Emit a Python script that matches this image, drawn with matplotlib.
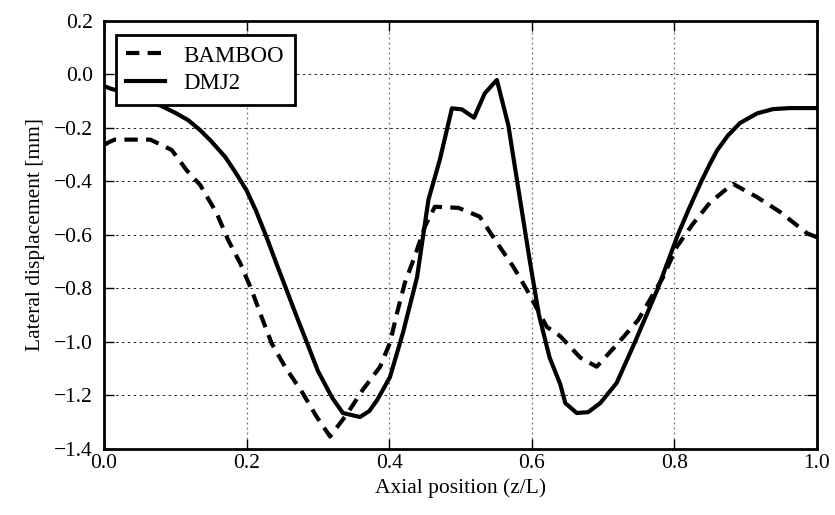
import matplotlib
matplotlib.use("Agg")
import matplotlib.pyplot as plt
from matplotlib.ticker import FuncFormatter

# lateral displacement along the rod, two codes
z_bamboo = [0.0, 0.008, 0.015, 0.065, 0.095, 0.116, 0.135, 0.158, 0.174, 0.191, 0.207,
            0.221, 0.235, 0.254, 0.278, 0.298, 0.317, 0.341, 0.363, 0.387, 0.401, 0.411,
            0.422, 0.436, 0.45, 0.464, 0.497, 0.527, 0.551, 0.574, 0.593, 0.621, 0.64,
            0.668, 0.691, 0.721, 0.749, 0.784, 0.803, 0.826, 0.85, 0.882, 0.916, 0.948,
            0.986, 1.0]
d_bamboo = [-0.265, -0.253, -0.245, -0.245, -0.284, -0.36, -0.415, -0.52, -0.62, -0.707,
            -0.807, -0.908, -1.006, -1.095, -1.19, -1.28, -1.355, -1.27, -1.18, -1.095,
            -1.005, -0.893, -0.78, -0.68, -0.57, -0.496, -0.5, -0.533, -0.63, -0.72,
            -0.806, -0.945, -0.98, -1.06, -1.094, -1.006, -0.92, -0.76, -0.647, -0.56,
            -0.48, -0.41, -0.46, -0.515, -0.595, -0.61]

z_dmj2 = [0.0, 0.01, 0.04, 0.06, 0.081, 0.1, 0.118, 0.135, 0.15, 0.17, 0.185, 0.2,
          0.213, 0.228, 0.242, 0.256, 0.27, 0.284, 0.3, 0.32, 0.335, 0.359, 0.372, 0.383,
          0.401, 0.419, 0.439, 0.455, 0.471, 0.488, 0.502, 0.519, 0.534, 0.551, 0.567,
          0.583, 0.597, 0.61, 0.625, 0.64, 0.647, 0.663, 0.679, 0.696, 0.719, 0.745,
          0.777, 0.805, 0.821, 0.838, 0.85, 0.86, 0.875, 0.892, 0.916, 0.938, 0.962, 1.0]
d_dmj2 = [-0.045, -0.055, -0.078, -0.097, -0.12, -0.145, -0.172, -0.21, -0.25, -0.31,
          -0.37, -0.435, -0.51, -0.61, -0.71, -0.807, -0.905, -1.0, -1.11, -1.21, -1.267,
          -1.282, -1.26, -1.219, -1.133, -0.97, -0.76, -0.47, -0.32, -0.128, -0.132,
          -0.163, -0.072, -0.022, -0.19, -0.46, -0.695, -0.9, -1.06, -1.16, -1.23,
          -1.267, -1.264, -1.23, -1.155, -1.0, -0.8, -0.6, -0.5, -0.4, -0.335, -0.285,
          -0.23, -0.183, -0.147, -0.131, -0.127, -0.127]

x_ticks = [0.0, 0.2, 0.4, 0.6, 0.8, 1.0]
y_ticks = [0.2, 0.0, -0.2, -0.4, -0.6, -0.8, -1.0, -1.2, -1.4]

plt.rcParams['font.family'] = ['Liberation Serif', 'DejaVu Serif']


def fmt(v, pos):
    if abs(v) < 1e-9:
        v = 0.0
    return f"{v:.1f}".replace('-', '\u2212')


fig = plt.figure(figsize=(8.35, 5.15), dpi=100)
ax = fig.add_axes([0.1246, 0.129, 0.8538, 0.831])

ax.plot(z_bamboo, d_bamboo, color='black', linewidth=3, linestyle=(0, (3.2, 2.0)),
        label='BAMBOO')
ax.plot(z_dmj2, d_dmj2, color='black', linewidth=3, linestyle='-', label='DMJ2')

ax.set_xlim(0, 1.0)
ax.set_ylim(-1.4, 0.2)
ax.set_xticks(x_ticks)
ax.set_yticks(y_ticks)
ax.xaxis.set_major_formatter(FuncFormatter(fmt))
ax.yaxis.set_major_formatter(FuncFormatter(fmt))
ax.grid(True, axis='y', color='black', linestyle=(0, (3, 4)), linewidth=0.6)
ax.grid(True, axis='x', color='0.45', linestyle=(0, (1.5, 2.5)), linewidth=0.9)

ax.tick_params(direction='in', length=7, width=1, top=True, right=True, labelsize=15.5)
ax.tick_params(axis='y', pad=8)
ax.tick_params(axis='x', pad=4)
for sp in ax.spines.values():
    sp.set_linewidth(2)

ax.set_xlabel('Axial position (z/L)', fontsize=15.5, labelpad=4)
ax.set_ylabel('Lateral displacement [mm]', fontsize=15.5, labelpad=6)

leg = ax.legend(loc='upper left', fontsize=16.5, fancybox=False, framealpha=1,
                edgecolor='black', handlelength=1.7, borderaxespad=0,
                bbox_to_anchor=(0.017, 0.966), borderpad=0.45, labelspacing=0.3)
leg.get_frame().set_linewidth(2)

fig.savefig('out.png', dpi=100)
